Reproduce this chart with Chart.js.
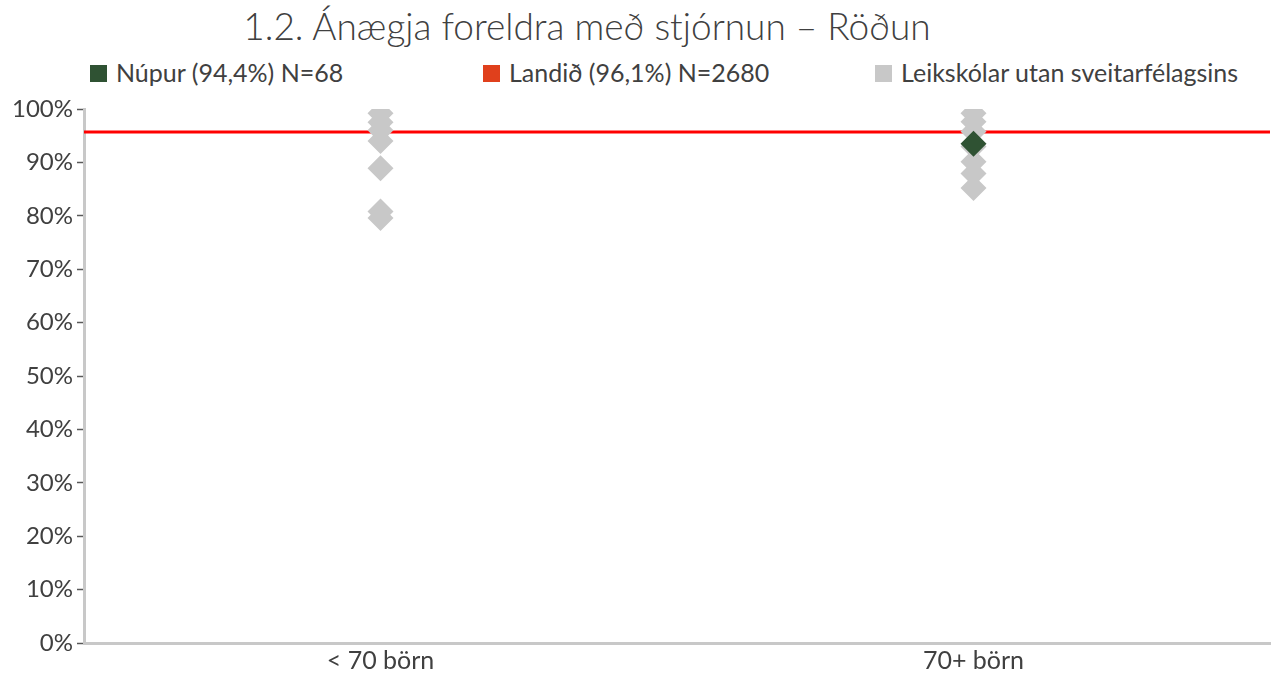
<!DOCTYPE html>
<html>
<head>
<meta charset="utf-8">
<script src="https://cdn.jsdelivr.net/npm/chart.js@4.4.1/dist/chart.umd.min.js"></script>
<style>
  body { margin: 0; background: #fff; }
  #wrap { position: relative; width: 1274px; height: 675px; font-family: Lato, "Open Sans", sans-serif; color: #404040; }
  #title { position: absolute; left: 0; width: 1174px; top: 3px; text-align: center; font-size: 37px; font-weight: 300; white-space: nowrap; }
  .leg { position: absolute; top: 57px; font-size: 25px; white-space: nowrap; }
  .leg span.box { display: inline-block; width: 17px; height: 17px; margin-right: 9px; vertical-align: 0px; }
  canvas { position: absolute; left: 0; top: 0; }
</style>
</head>
<body>
<div id="wrap">
  <div id="title">1.2. Ánægja foreldra með stjórnun – Röðun</div>
  <div id="legend"></div>
  <canvas id="rodun-chart" width="1274" height="675"></canvas>
</div>
<script>
// data
var categories = ["< 70 börn", "70+ börn"];
var categoryPos = [1, 3];
var otherLow = [99.2, 97.5, 96.0, 94.0, 88.9, 80.8, 79.6];
var otherHigh = [99.2, 97.6, 95.8, 93.0, 90.1, 87.9, 85.2];
var nupurValues = [null, 93.5];
var landidValue = 95.7;
var yTicks = [0, 10, 20, 30, 40, 50, 60, 70, 80, 90, 100];

var seriesLabels = ["Núpur (94,4%) N=68", "Landið (96,1%) N=2680", "Leikskólar utan sveitarfélagsins"];
var legendColors = ["#2f5233", "#e0401c", "#c8c8c8"];
var legendLeft = [90, 483, 875];

function BuildLegend() {
    var el = document.getElementById("legend");
    for (var i = 0; i < seriesLabels.length; i++) {
        var item = document.createElement("div");
        item.className = "leg";
        item.style.left = legendLeft[i] + "px";
        var box = document.createElement("span");
        box.className = "box";
        box.style.background = legendColors[i];
        item.appendChild(box);
        item.appendChild(document.createTextNode(seriesLabels[i]));
        el.appendChild(item);
    }
}

function BuildChart() {
    var greyPts = [];
    for (var i = 0; i < otherLow.length; i++)
        greyPts.push({ x: categoryPos[0], y: otherLow[i] });
    for (var j = 0; j < otherHigh.length; j++)
        greyPts.push({ x: categoryPos[1], y: otherHigh[j] });

    var greenPts = [];
    for (var k = 0; k < nupurValues.length; k++) {
        if (nupurValues[k] != null)
            greenPts.push({ x: categoryPos[k], y: nupurValues[k] });
    }

    var ctx = document.getElementById("rodun-chart");
    new Chart(ctx, {
        type: "scatter",
        data: {
            datasets: [{
                label: seriesLabels[0],
                data: greenPts,
                pointStyle: "rectRot",
                pointRadius: 13,
                pointBackgroundColor: "#2f5233",
                pointBorderWidth: 0,
                order: 0
            }, {
                label: seriesLabels[2],
                data: greyPts,
                pointStyle: "rectRot",
                pointRadius: 13,
                pointBackgroundColor: "#c8c8c8",
                pointBorderWidth: 0,
                order: 1
            }, {
                label: seriesLabels[1],
                data: [{ x: 0, y: landidValue }, { x: 4, y: landidValue }],
                showLine: true,
                borderColor: "#ff0000",
                borderWidth: 3,
                pointRadius: 0,
                order: 2
            }]
        },
        options: {
            responsive: false,
            animation: false,
            layout: {
                autoPadding: false,
                padding: { top: 109, right: 4, left: 0, bottom: 0 }
            },
            plugins: {
                legend: { display: false },
                title: { display: false },
                tooltip: { enabled: false }
            },
            scales: {
                x: {
                    type: "linear",
                    min: 0,
                    max: 4,
                    afterBuildTicks: function (scale) {
                        scale.ticks = categoryPos.map(function (v) { return { value: v }; });
                    },
                    ticks: {
                        autoSkip: false,
                        maxRotation: 0,
                        padding: 3,
                        color: "#404040",
                        font: { family: "Lato", size: 25 },
                        callback: function (v) {
                            var idx = categoryPos.indexOf(v);
                            return idx >= 0 ? categories[idx] : "";
                        }
                    },
                    grid: { display: false, drawTicks: false },
                    border: { display: true, color: "#c8c8c8", width: 3 },
                    afterFit: function (scale) { scale.height = 32; }
                },
                y: {
                    min: 0,
                    max: 100,
                    afterBuildTicks: function (scale) {
                        scale.ticks = yTicks.map(function (v) { return { value: v }; });
                    },
                    ticks: {
                        padding: 4,
                        color: "#404040",
                        font: { family: "Lato", size: 24 },
                        callback: function (v) { return v + "%"; }
                    },
                    grid: {
                        display: true,
                        drawOnChartArea: false,
                        drawTicks: true,
                        tickLength: 7,
                        tickColor: "#595959",
                        tickWidth: 1.5
                    },
                    border: { display: true, color: "#c8c8c8", width: 3 },
                    afterFit: function (scale) { scale.width = 84; }
                }
            }
        }
    });
}

// starting scripts
BuildLegend();
BuildChart();
</script>
</body>
</html>
